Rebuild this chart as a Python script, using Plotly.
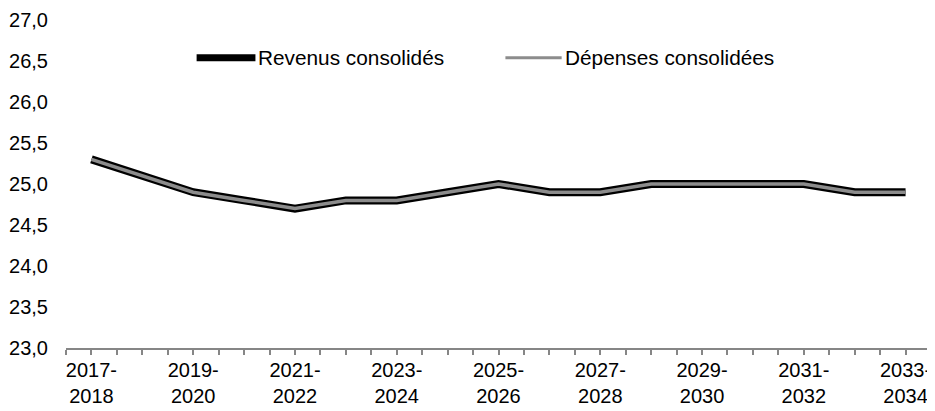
import plotly.graph_objects as go

# Données
years = ["2017-<br>2018", "2018-<br>2019", "2019-<br>2020", "2020-<br>2021", "2021-<br>2022",
         "2022-<br>2023", "2023-<br>2024", "2024-<br>2025", "2025-<br>2026", "2026-<br>2027",
         "2027-<br>2028", "2028-<br>2029", "2029-<br>2030", "2030-<br>2031", "2031-<br>2032",
         "2032-<br>2033", "2033-<br>2034"]
revenus = [25.3, 25.1, 24.9, 24.8, 24.7, 24.8, 24.8, 24.9, 25.0, 24.9, 24.9, 25.0, 25.0, 25.0, 25.0, 24.9, 24.9]
depenses = [25.3, 25.1, 24.9, 24.8, 24.7, 24.8, 24.8, 24.9, 25.0, 24.9, 24.9, 25.0, 25.0, 25.0, 25.0, 24.9, 24.9]

FONT = "Liberation Sans, Arial, sans-serif"
BLACK = "#000000"
GRAY = "#8c8c8c"
AXIS = "#868686"
idx = list(range(len(years)))

fig = go.Figure()
fig.add_trace(go.Scatter(x=idx, y=revenus, mode="lines", name="Revenus consolidés",
                         line=dict(color=BLACK, width=8)))
fig.add_trace(go.Scatter(x=idx, y=depenses, mode="lines", name="Dépenses consolidées",
                         line=dict(color=GRAY, width=3.5)))

# Légende dessinée à la main (traits longs comme dans Excel)
legend_y = 0.885
for x0, x1, color, w, label in [(0.151, 0.219, BLACK, 7, "Revenus consolidés"),
                                (0.508, 0.573, GRAY, 3, "Dépenses consolidées")]:
    fig.add_shape(type="line", xref="paper", yref="paper", x0=x0, x1=x1,
                  y0=legend_y, y1=legend_y, line=dict(color=color, width=w))
    fig.add_annotation(xref="paper", yref="paper", x=x1 + 0.001, y=legend_y,
                       xanchor="left", yanchor="middle", text=label, showarrow=False,
                       font=dict(size=20.8, color=BLACK))

# La page ajoute une marge de 8 px autour du graphique
fig.update_layout(
    width=927, height=403,
    margin=dict(l=58, r=4, t=12, b=63),
    paper_bgcolor="white", plot_bgcolor="white",
    font=dict(family=FONT, size=20, color=BLACK),
    separators=", ",
    showlegend=False,
)

fig.update_xaxes(
    range=[-0.5, len(years) - 0.5], automargin=False,
    tickvals=idx[::2], ticktext=years[::2],
    showgrid=False, zeroline=False,
    showline=True, linecolor=AXIS, linewidth=1.5,
    ticks="outside", ticklen=5, tickcolor=AXIS, tickwidth=1.5,
    minor=dict(ticks="outside", dtick=0.5, tick0=-0.5, ticklen=5,
               tickcolor=AXIS, tickwidth=1.5, showgrid=False),
    ticklabelstandoff=-2, ticklabeloverflow="allow",
    tickfont=dict(size=20),
)
fig.update_yaxes(
    range=[23, 27], dtick=0.5, tickformat=".1f", automargin=False,
    showgrid=False, zeroline=False, showline=False,
    ticks="", ticklabelstandoff=17, ticklabeloverflow="allow",
    tickfont=dict(size=20),
)

fig.write_html("out.html")
